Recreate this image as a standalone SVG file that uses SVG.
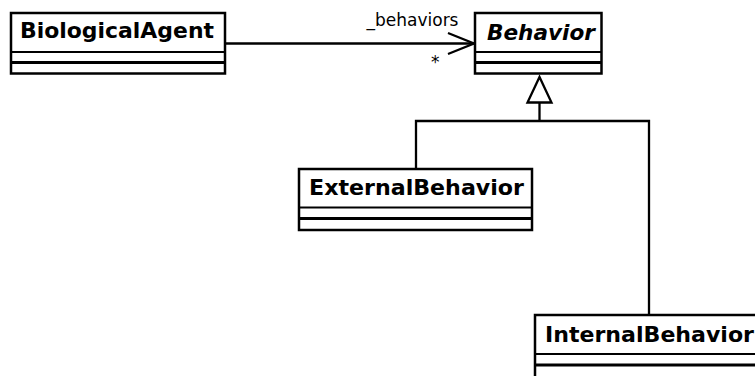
<svg xmlns="http://www.w3.org/2000/svg" width="755" height="376" viewBox="0 0 755 376">
<style>
.box{fill:#fff;stroke:#000;stroke-width:2.5}
.sep{stroke:#000;stroke-width:2.2}
.sep2{stroke:#000;stroke-width:3}
.name{font-family:"DejaVu Sans",sans-serif;font-weight:bold;font-size:20.5px;fill:#000}
.abs{font-style:italic}
.lbl{font-family:"DejaVu Sans",sans-serif;font-size:17px;fill:#000}
.edge{fill:none;stroke:#000;stroke-width:2.3}
</style>
<rect width="755" height="376" fill="#fff"/>
<g id="connectors">
<line class="edge" x1="225" y1="43.5" x2="474" y2="43.5"/>
<polyline class="edge" points="448,33 474,43.5 448,54" stroke-width="2.7"/>
<text class="lbl" x="366.5" y="26.3">_behaviors</text>
<text class="lbl" x="431" y="68" font-size="18">*</text>
<polyline class="edge" points="416,169 416,121 649,121 649,315"/>
<line class="edge" x1="539.5" y1="102.5" x2="539.5" y2="121"/>
<polygon points="539.5,77 527.5,102.5 551.5,102.5" fill="#fff" stroke="#000" stroke-width="2.3"/>
</g>
<g id="BiologicalAgent">
<rect class="box" x="11" y="13" width="214" height="60.5"/>
<line class="sep" x1="11" y1="52" x2="225" y2="52"/>
<line class="sep2" x1="11" y1="62.5" x2="225" y2="62.5"/>
<text class="name" x="20" y="38" textLength="194" lengthAdjust="spacingAndGlyphs">BiologicalAgent</text>
</g>
<g id="Behavior">
<rect class="box" x="475" y="13" width="126.5" height="60.5"/>
<line class="sep" x1="475" y1="52" x2="601.5" y2="52"/>
<line class="sep2" x1="475" y1="62.5" x2="601.5" y2="62.5"/>
<text class="name abs" x="487" y="40" textLength="108" lengthAdjust="spacingAndGlyphs">Behavior</text>
</g>
<g id="ExternalBehavior">
<rect class="box" x="299" y="169" width="233" height="61"/>
<line class="sep" x1="299" y1="207.5" x2="532" y2="207.5"/>
<line class="sep2" x1="299" y1="218.5" x2="532" y2="218.5"/>
<text class="name" x="309" y="195" textLength="215" lengthAdjust="spacingAndGlyphs">ExternalBehavior</text>
</g>
<g id="InternalBehavior">
<rect class="box" x="535" y="315" width="230" height="80"/>
<line class="sep" x1="535" y1="354" x2="765" y2="354"/>
<line class="sep2" x1="535" y1="365" x2="765" y2="365"/>
<text class="name" x="545" y="342" textLength="209" lengthAdjust="spacingAndGlyphs">InternalBehavior</text>
</g>
</svg>
